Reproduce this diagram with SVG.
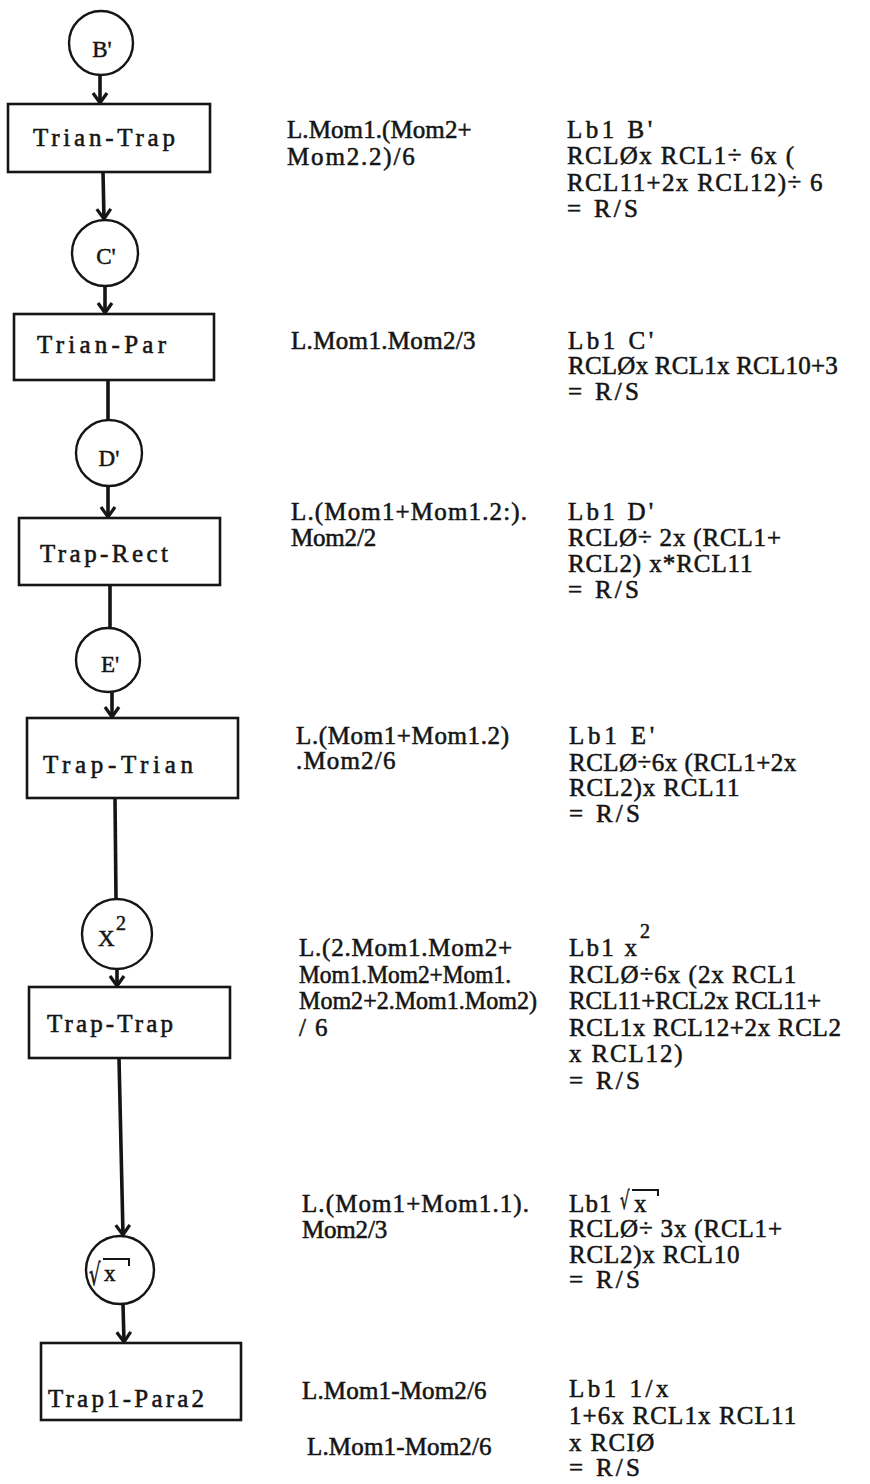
<svg xmlns="http://www.w3.org/2000/svg" width="870" height="1484" viewBox="0 0 870 1484">
<defs>
<style>
.t{font-family:"Liberation Serif","Times New Roman",serif;font-size:25px;fill:#151515;stroke:#151515;stroke-width:0.55}
.cl{font-family:"Liberation Serif","Times New Roman",serif;font-size:23px;fill:#151515;stroke:#151515;stroke-width:0.5}
.sup{font-family:"Liberation Serif","Times New Roman",serif;font-size:20px;fill:#151515;stroke:#151515;stroke-width:0.5}
.rad{font-family:"DejaVu Sans",sans-serif;fill:#151515;stroke:#151515;stroke-width:0.6}
.box{fill:#fff;stroke:#151515;stroke-width:2.6}
.circ{fill:#fff;stroke:#151515;stroke-width:2.4}
.con{fill:none;stroke:#151515;stroke-width:3.6}
.bar{fill:none;stroke:#151515;stroke-width:2}
</style>
<marker id="ah" markerUnits="userSpaceOnUse" markerWidth="16" markerHeight="20" viewBox="-13 -10 16 20" refX="0" refY="0" orient="auto">
<path d="M-10,-7 L0,0 L-10,7" fill="none" stroke="#151515" stroke-width="3.2"/>
</marker>
</defs>
<rect width="870" height="1484" fill="#fff"/>

<g id="connectors">
<line class="con" x1="100" y1="75" x2="100" y2="103" marker-end="url(#ah)"/>
<line class="con" x1="103" y1="172" x2="104" y2="219" marker-end="url(#ah)"/>
<line class="con" x1="105" y1="286" x2="105" y2="313" marker-end="url(#ah)"/>
<line class="con" x1="108" y1="380" x2="108" y2="420"/>
<line class="con" x1="108" y1="486" x2="108" y2="517" marker-end="url(#ah)"/>
<line class="con" x1="110" y1="585" x2="110" y2="628"/>
<line class="con" x1="112" y1="692" x2="112" y2="717" marker-end="url(#ah)"/>
<line class="con" x1="115" y1="798" x2="116" y2="899"/>
<line class="con" x1="117" y1="969" x2="117" y2="986" marker-end="url(#ah)"/>
<line class="con" x1="119" y1="1058" x2="123" y2="1235" marker-end="url(#ah)"/>
<line class="con" x1="123" y1="1304" x2="124" y2="1342" marker-end="url(#ah)"/>
</g>

<g id="node-b">
<circle class="circ" cx="101" cy="43" r="32"/>
<text class="cl" x="102" y="57" text-anchor="middle">B'</text>
</g>
<g id="node-trian-trap">
<rect class="box" x="8" y="104" width="202" height="68"/>
<text class="t" x="33" y="146" textLength="142" lengthAdjust="spacing">Trian-Trap</text>
</g>
<g id="node-c">
<circle class="circ" cx="105" cy="253" r="33"/>
<text class="cl" x="106" y="264" text-anchor="middle">C'</text>
</g>
<g id="node-trian-par">
<rect class="box" x="14" y="314" width="200" height="66"/>
<text class="t" x="37" y="353" textLength="129" lengthAdjust="spacing">Trian-Par</text>
</g>
<g id="node-d">
<circle class="circ" cx="109" cy="453" r="33"/>
<text class="cl" x="109" y="466" text-anchor="middle">D'</text>
</g>
<g id="node-trap-rect">
<rect class="box" x="19" y="518" width="201" height="67"/>
<text class="t" x="40" y="562" textLength="128" lengthAdjust="spacing">Trap-Rect</text>
</g>
<g id="node-e">
<circle class="circ" cx="108" cy="660" r="32"/>
<text class="cl" x="110" y="672" text-anchor="middle">E'</text>
</g>
<g id="node-trap-trian">
<rect class="box" x="27" y="718" width="211" height="80"/>
<text class="t" x="43" y="773" textLength="150" lengthAdjust="spacing">Trap-Trian</text>
</g>
<g id="node-x2">
<circle class="circ" cx="117" cy="934" r="35"/>
<text class="cl" x="98" y="946">X</text>
<text class="sup" x="116" y="930">2</text>
</g>
<g id="node-trap-trap">
<rect class="box" x="29" y="987" width="201" height="71"/>
<text class="t" x="47" y="1032" textLength="126" lengthAdjust="spacing">Trap-Trap</text>
</g>
<g id="node-sqrt">
<circle class="circ" cx="120" cy="1270" r="34"/>
<text class="rad" font-size="30" transform="translate(89,1285) scale(0.6,1)">√</text>
<text class="cl" x="104" y="1281">x</text>
<polyline class="bar" points="103,1259 129,1259 129,1266"/>
</g>
<g id="node-trap1-para2">
<rect class="box" x="41" y="1343" width="200" height="77"/>
<text class="t" x="48" y="1407" textLength="156" lengthAdjust="spacing">Trap1-Para2</text>
</g>

<g id="formulas">
<text class="t" x="287" y="138" textLength="184.6" lengthAdjust="spacing">L.Mom1.(Mom2+</text>
<text class="t" x="287" y="165" textLength="127.8" lengthAdjust="spacing">Mom2.2)/6</text>
<text class="t" x="291" y="349" textLength="184.6" lengthAdjust="spacing">L.Mom1.Mom2/3</text>
<text class="t" x="291" y="520" textLength="236" lengthAdjust="spacing">L.(Mom1+Mom1.2:).</text>
<text class="t" x="291" y="546" textLength="85.2" lengthAdjust="spacing">Mom2/2</text>
<text class="t" x="296" y="744" textLength="213" lengthAdjust="spacing">L.(Mom1+Mom1.2)</text>
<text class="t" x="296" y="769" textLength="99.4" lengthAdjust="spacing">.Mom2/6</text>
<text class="t" x="299" y="956" textLength="213" lengthAdjust="spacing">L.(2.Mom1.Mom2+</text>
<text class="t" x="299" y="983" textLength="212" lengthAdjust="spacingAndGlyphs">Mom1.Mom2+Mom1.</text>
<text class="t" x="299" y="1009" textLength="238" lengthAdjust="spacingAndGlyphs">Mom2+2.Mom1.Mom2)</text>
<text class="t" x="299" y="1036" textLength="28.4" lengthAdjust="spacing">/6</text>
<text class="t" x="302" y="1212" textLength="227" lengthAdjust="spacing">L.(Mom1+Mom1.1).</text>
<text class="t" x="302" y="1238" textLength="85.2" lengthAdjust="spacing">Mom2/3</text>
<text class="t" x="302" y="1399" textLength="184.6" lengthAdjust="spacing">L.Mom1-Mom2/6</text>
<text class="t" x="307" y="1455" textLength="184.6" lengthAdjust="spacing">L.Mom1-Mom2/6</text>
</g>

<g id="programs">
<text class="t" x="567" y="138" textLength="85.2" lengthAdjust="spacing">Lb1 B'</text>
<text class="t" x="567" y="164" textLength="227.2" lengthAdjust="spacing">RCLØx RCL1÷ 6x (</text>
<text class="t" x="567" y="191" textLength="255.6" lengthAdjust="spacing">RCL11+2x RCL12)÷ 6</text>
<text class="t" x="567" y="217" textLength="71" lengthAdjust="spacing">= R/S</text>

<text class="t" x="568" y="349" textLength="85.2" lengthAdjust="spacing">Lb1 C'</text>
<text class="t" x="568" y="374" textLength="269.8" lengthAdjust="spacing">RCLØx RCL1x RCL10+3</text>
<text class="t" x="568" y="400" textLength="71" lengthAdjust="spacing">= R/S</text>

<text class="t" x="568" y="520" textLength="85.2" lengthAdjust="spacing">Lb1 D'</text>
<text class="t" x="568" y="546" textLength="213" lengthAdjust="spacing">RCLØ÷ 2x (RCL1+</text>
<text class="t" x="568" y="572" textLength="184.6" lengthAdjust="spacing">RCL2) x*RCL11</text>
<text class="t" x="568" y="598" textLength="71" lengthAdjust="spacing">= R/S</text>

<text class="t" x="569" y="744" textLength="85.2" lengthAdjust="spacing">Lb1 E'</text>
<text class="t" x="569" y="771" textLength="227.2" lengthAdjust="spacing">RCLØ÷6x (RCL1+2x</text>
<text class="t" x="569" y="796" textLength="170.4" lengthAdjust="spacing">RCL2)x RCL11</text>
<text class="t" x="569" y="822" textLength="71" lengthAdjust="spacing">= R/S</text>

<text class="t" x="569" y="956" textLength="68" lengthAdjust="spacing">Lb1 x</text>
<text class="sup" x="640" y="938">2</text>
<text class="t" x="569" y="983" textLength="227.2" lengthAdjust="spacing">RCLØ÷6x (2x RCL1</text>
<text class="t" x="569" y="1009" textLength="252" lengthAdjust="spacing">RCL11+RCL2x RCL11+</text>
<text class="t" x="569" y="1036" textLength="272" lengthAdjust="spacing">RCL1x RCL12+2x RCL2</text>
<text class="t" x="569" y="1062" textLength="113.6" lengthAdjust="spacing">x RCL12)</text>
<text class="t" x="569" y="1089" textLength="71" lengthAdjust="spacing">= R/S</text>

<text class="t" x="569" y="1212" textLength="42.6" lengthAdjust="spacing">Lb1</text>
<text class="rad" font-size="25" transform="translate(620,1209) scale(0.6,1)">√</text>
<text class="t" x="634" y="1212">x</text>
<polyline class="bar" points="632,1190 658,1190 658,1196"/>
<text class="t" x="569" y="1237" textLength="213" lengthAdjust="spacing">RCLØ÷ 3x (RCL1+</text>
<text class="t" x="569" y="1263" textLength="170.4" lengthAdjust="spacing">RCL2)x RCL10</text>
<text class="t" x="569" y="1288" textLength="71" lengthAdjust="spacing">= R/S</text>

<text class="t" x="569" y="1397" textLength="99.4" lengthAdjust="spacing">Lb1 1/x</text>
<text class="t" x="569" y="1424" textLength="227.2" lengthAdjust="spacing">1+6x RCL1x RCL11</text>
<text class="t" x="569" y="1451" textLength="85.2" lengthAdjust="spacing">x RCIØ</text>
<text class="t" x="569" y="1476" textLength="71" lengthAdjust="spacing">= R/S</text>
</g>
</svg>
